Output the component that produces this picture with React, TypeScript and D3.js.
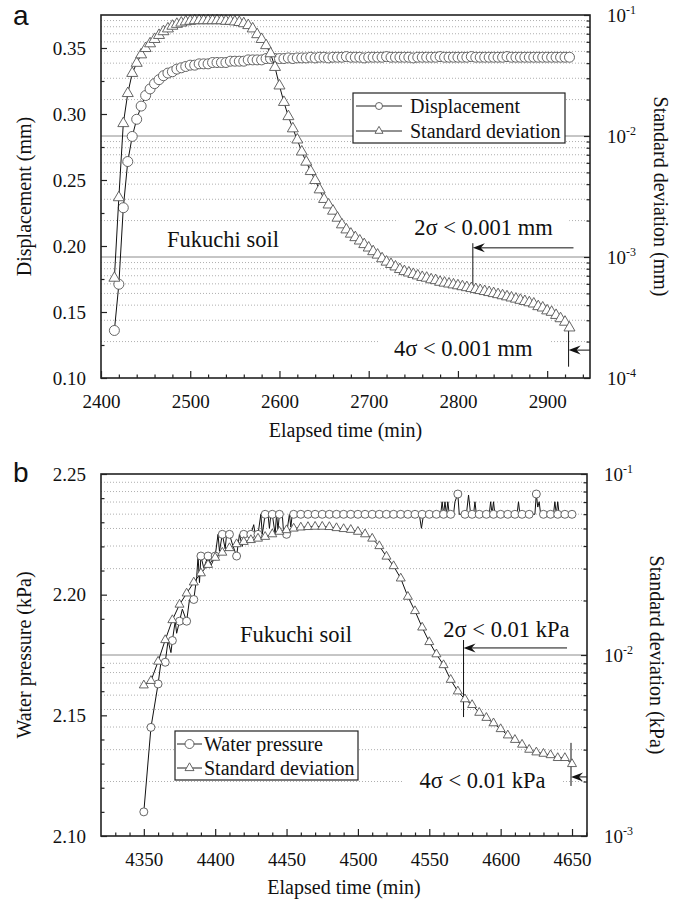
import React, { useEffect, useRef } from "react";
import * as d3 from "d3";

const SERIF = '"Liberation Serif", "Times New Roman", Times, serif';
const SANS = '"Liberation Sans", Arial, sans-serif';

// ---------- panel a : displacement, Fukuchi soil ----------
// readings were logged every 5 min from 2415 min on
const dispStart = 2415;
const dispStep = 5;
const displacement = [
  0.136, 0.171, 0.229, 0.264, 0.283, 0.296, 0.306, 0.314, 0.319, 0.323,
  0.326, 0.329, 0.331, 0.332, 0.334, 0.335, 0.336, 0.337, 0.337, 0.338,
  0.338, 0.338, 0.339, 0.339, 0.339, 0.339, 0.34, 0.34, 0.34, 0.34,
  0.341, 0.341, 0.341, 0.341, 0.342, 0.342, 0.342, 0.342, 0.342, 0.3425,
  0.342, 0.3425, 0.3425, 0.3425, 0.343, 0.3425, 0.343, 0.343, 0.3425, 0.343,
  0.343, 0.343, 0.3435, 0.343, 0.343, 0.343, 0.3425, 0.343, 0.343, 0.343,
  0.343, 0.3435, 0.343, 0.343, 0.343, 0.343, 0.343, 0.3425, 0.343, 0.343,
  0.343, 0.343, 0.343, 0.3435, 0.343, 0.343, 0.343, 0.343, 0.343, 0.343,
  0.3435, 0.343, 0.343, 0.343, 0.343, 0.343, 0.343, 0.343, 0.3435, 0.343,
  0.343, 0.343, 0.343, 0.343, 0.343, 0.343, 0.343, 0.343, 0.343, 0.343,
  0.343, 0.343, 0.343,
];
const displacementSD = [
  0.00067, 0.0031, 0.0127, 0.0225, 0.033, 0.04, 0.047, 0.053, 0.058, 0.063,
  0.068, 0.073, 0.077, 0.081, 0.084, 0.086, 0.088, 0.089, 0.09, 0.09,
  0.09, 0.09, 0.09, 0.09, 0.09, 0.089, 0.089, 0.088, 0.087, 0.085,
  0.082, 0.077, 0.069, 0.063, 0.056, 0.048, 0.037, 0.026, 0.019, 0.0145,
  0.0115, 0.0093, 0.0074, 0.0061, 0.0051, 0.0043, 0.0036, 0.003, 0.0027, 0.0024,
  0.0021, 0.00185, 0.00168, 0.00155, 0.00145, 0.00136, 0.00127, 0.00119, 0.00111, 0.00104,
  0.00097, 0.00091, 0.00087, 0.00083, 0.00079, 0.00076, 0.00074, 0.00072, 0.0007, 0.00068,
  0.00067, 0.00065, 0.00064, 0.00062, 0.00061, 0.0006, 0.00059, 0.00058, 0.00057, 0.00056,
  0.00055, 0.00054, 0.00053, 0.00052, 0.00051, 0.0005, 0.00049, 0.00048, 0.00047, 0.00046,
  0.00045, 0.00044, 0.00043, 0.00042, 0.00041, 0.00039, 0.00038, 0.00036, 0.00035, 0.00033,
  0.00031, 0.00029, 0.00026,
];
const timeTicksA = [2400, 2500, 2600, 2700, 2800, 2900];
const dispTicks = [0.1, 0.15, 0.2, 0.25, 0.3, 0.35];
const legendA = ["Displacement", "Standard deviation"];

// ---------- panel b : water pressure, Fukuchi soil ----------
const wpStart = 4350;
const wpStep = 5;
const waterPressure = [
  2.11, 2.145, 2.163, 2.172, 2.181, 2.189, 2.189, 2.198, 2.216, 2.216,
  2.216, 2.225, 2.225, 2.216, 2.225, 2.225, 2.225, 2.2333, 2.2333, 2.2333,
  2.225, 2.2333, 2.2333, 2.2333, 2.2333, 2.2333, 2.2333, 2.2333, 2.2333, 2.2333,
  2.2333, 2.2333, 2.2333, 2.2333, 2.2333, 2.2333, 2.2333, 2.2333, 2.2333, 2.2333,
  2.2333, 2.2333, 2.2333, 2.2333, 2.2417, 2.2333, 2.2333, 2.2333, 2.2333, 2.2333,
  2.2333, 2.2333, 2.2333, 2.2333, 2.2333, 2.2417, 2.2333, 2.2333, 2.2333, 2.2333,
  2.2333,
];
// the raw pressure trace is logged more often than the plotted markers
const waterPressureTrace: [number, number][] = [
  [4350, 2.11], [4355, 2.145], [4360, 2.163], [4362, 2.172], [4365, 2.172],
  [4367, 2.181], [4369, 2.176], [4370, 2.181], [4372, 2.189], [4373, 2.184],
  [4375, 2.189], [4377, 2.194], [4380, 2.189], [4382, 2.198], [4385, 2.198],
  [4387, 2.207], [4388, 2.216], [4389, 2.205], [4390, 2.216], [4392, 2.211],
  [4395, 2.216], [4397, 2.212], [4400, 2.216], [4402, 2.225], [4403, 2.218],
  [4405, 2.225], [4407, 2.219], [4408, 2.225], [4410, 2.225], [4412, 2.221],
  [4415, 2.216], [4417, 2.225], [4419, 2.22], [4420, 2.225], [4425, 2.225],
  [4427, 2.229], [4428, 2.225], [4430, 2.225], [4432, 2.2333], [4433, 2.225],
  [4435, 2.2333], [4437, 2.2333], [4438, 2.2275], [4439, 2.2333], [4440, 2.2333],
  [4442, 2.225], [4443, 2.2333], [4444, 2.227], [4445, 2.2333], [4447, 2.2333],
  [4448, 2.225], [4450, 2.225], [4452, 2.2333], [4453, 2.228], [4454, 2.2333],
  [4543, 2.2333], [4544.5, 2.2275], [4546, 2.2333], [4558, 2.2333], [4559, 2.2385],
  [4560, 2.2333], [4561, 2.2385], [4562, 2.2333], [4563, 2.2385], [4564, 2.2333],
  [4567, 2.2333], [4568, 2.2385], [4570, 2.2417], [4571, 2.2333], [4576, 2.2333],
  [4577.5, 2.2413], [4579, 2.2333], [4581, 2.2333], [4582, 2.2385], [4583, 2.2333],
  [4592, 2.2333], [4593, 2.2385], [4594, 2.2333], [4595, 2.2385], [4596, 2.2333],
  [4611.5, 2.2333], [4612.5, 2.2385], [4613.5, 2.2333], [4624, 2.2333], [4625, 2.2417],
  [4626, 2.2363], [4627, 2.2385], [4628, 2.2333], [4637, 2.2333], [4638, 2.2385],
  [4639, 2.2333], [4640, 2.2385], [4641, 2.2333], [4650, 2.2333],
];
const waterPressureSD = [
  0.0068, 0.0072, 0.0092, 0.0121, 0.0156, 0.019, 0.0219, 0.0252, 0.0283, 0.0315,
  0.0345, 0.0368, 0.039, 0.041, 0.0422, 0.0432, 0.044, 0.045, 0.0465, 0.048,
  0.049, 0.05, 0.0507, 0.051, 0.0512, 0.0512, 0.051, 0.0503, 0.0497, 0.0492,
  0.048, 0.0465, 0.044, 0.04, 0.035, 0.031, 0.0265, 0.021, 0.0175, 0.0142,
  0.0118, 0.0101, 0.0088, 0.0073, 0.0063, 0.0057, 0.0053, 0.0048, 0.0045, 0.0042,
  0.0039, 0.0036, 0.0034, 0.0032, 0.003, 0.0029, 0.00285, 0.0028, 0.0027, 0.0027,
  0.0025,
];
const timeTicksB = [4350, 4400, 4450, 4500, 4550, 4600, 4650];
const pressureTicks = [2.1, 2.15, 2.2, 2.25];
const legendB = ["Water pressure", "Standard deviation"];

type Note = {
  text: string; tx: number; ty: number;
  vx: number; v0: number; v1: number;
  tail: number; tip: number; ay: number;
};

type Panel = {
  letter: string; letterY: number;
  frame: { left: number; right: number; top: number; bottom: number };
  xDomain: [number, number]; yDomain: [number, number]; sdDomain: [number, number];
  xTicks: number[]; xMinor: number[]; yTicks: number[]; yMinor: number[]; yFormat: string;
  times: number[]; values: number[]; sd: number[]; trace?: [number, number][];
  r: number; tri: number;
  yTitle: string; sdTitle: string; xTitleY: number; sdTitleX: number;
  soil: [number, number]; notes: Note[];
  legend: { x: number; y: number; w: number; h: number; rows: number[]; l0: number; l1: number; tx: number; r: number; tri: number; labels: string[] };
};

const panelA: Panel = {
  letter: "a", letterY: 25,
  frame: { left: 101, right: 590, top: 15, bottom: 378 },
  xDomain: [2400, 2948], yDomain: [0.1, 0.375], sdDomain: [1e-4, 1e-1],
  xTicks: timeTicksA,
  xMinor: d3.range(2420, 2948, 20).filter((t) => t % 100 !== 0),
  yTicks: dispTicks,
  yMinor: [0.125, 0.175, 0.225, 0.275, 0.325],
  yFormat: ".2f",
  times: displacement.map((_, i) => dispStart + i * dispStep),
  values: displacement, sd: displacementSD,
  r: 5, tri: 11,
  yTitle: "Displacement (mm)", sdTitle: "Standard deviation (mm)",
  xTitleY: 437, sdTitleX: 654,
  soil: [2474, 0.1993],
  notes: [
    { text: "2σ < 0.001 mm", tx: 2828.6, ty: 1.52e-3, vx: 2816.7, v0: 1.3e-3, v1: 5.33e-4, tail: 2929.5, tip: 2816.7, ay: 1.19e-3 },
    { text: "4σ < 0.001 mm", tx: 2806, ty: 1.52e-4, vx: 2924, v0: 2.61e-4, v1: 1.24e-4, tail: 2948, tip: 2924, ay: 1.7e-4 },
  ],
  legend: { x: 353, y: 93, w: 212, h: 50, rows: [106, 131], l0: 356, l1: 402, tx: 410, r: 3.5, tri: 8, labels: legendA },
};

const panelB: Panel = {
  letter: "b", letterY: 482,
  frame: { left: 101, right: 587, top: 474, bottom: 836 },
  xDomain: [4320, 4660.5], yDomain: [2.1, 2.25], sdDomain: [1e-3, 1e-1],
  xTicks: timeTicksB,
  xMinor: d3.range(4330, 4661, 10).filter((t) => t % 50 !== 0),
  yTicks: pressureTicks,
  yMinor: d3.range(2.11, 2.245, 0.01).filter((v) => Math.abs(v - 2.15) > 0.001 && Math.abs(v - 2.2) > 0.001),
  yFormat: ".2f",
  times: waterPressure.map((_, i) => wpStart + i * wpStep),
  values: waterPressure, sd: waterPressureSD, trace: waterPressureTrace,
  r: 4, tri: 9,
  yTitle: "Water pressure (kPa)", sdTitle: "Standard deviation (kPa)",
  xTitleY: 894, sdTitleX: 650,
  soil: [4417.4, 2.1802],
  notes: [
    { text: "2σ < 0.01 kPa", tx: 4604, ty: 0.0126, vx: 4574, v0: 0.0121, v1: 0.00454, tail: 4646.5, tip: 4574, ay: 0.01094 },
    { text: "4σ < 0.01 kPa", tx: 4587.3, ty: 0.00184, vx: 4649.3, v0: 0.00327, v1: 0.00189, tail: 4660.5, tip: 4649.3, ay: 0.00212 },
  ],
  legend: { x: 175, y: 731, w: 183, h: 49, rows: [744, 768], l0: 177, l1: 202, tx: 204, r: 4.5, tri: 9, labels: legendB },
};

const triPath = (side: number) => d3.symbol(d3.symbolTriangle, (side * side * Math.sqrt(3)) / 4)()!;

function drawPanel(svg: d3.Selection<SVGSVGElement, unknown, null, undefined>, p: Panel) {
  const { left, right, top, bottom } = p.frame;
  const x = d3.scaleLinear().domain(p.xDomain).range([left, right]);
  const y = d3.scaleLinear().domain(p.yDomain).range([bottom, top]);
  const ys = d3.scaleLog().domain(p.sdDomain).range([bottom, top]);
  const g = svg.append("g");

  // grid from the log axis: dotted at 2..9, solid at inner decades
  const logTicks = ys.ticks();
  const isDecade = (v: number) => Math.abs(Math.log10(v) - Math.round(Math.log10(v))) < 1e-6;
  const minors = logTicks.filter((v) => !isDecade(v));
  const decades = logTicks.filter(isDecade);
  g.selectAll(".grid").data(minors).join("line")
    .attr("x1", left).attr("x2", right)
    .attr("y1", (d) => ys(d)).attr("y2", (d) => ys(d))
    .attr("stroke", "#9a9a9a").attr("stroke-width", 0.8).attr("stroke-dasharray", "1,2");
  g.selectAll(".dec").data(decades.filter((d) => d > p.sdDomain[0] && d < p.sdDomain[1])).join("line")
    .attr("x1", left).attr("x2", right)
    .attr("y1", (d) => ys(d)).attr("y2", (d) => ys(d))
    .attr("stroke", "#8c8c8c").attr("stroke-width", 1);

  // annotations
  p.notes.forEach((n) => {
    const t = g.append("text")
      .attr("x", x(n.tx)).attr("y", ys(n.ty))
      .attr("text-anchor", "middle")
      .attr("font-family", SERIF).attr("font-size", 22.5).attr("fill", "#111")
      .text(n.text);
    const bb = (t.node() as SVGTextElement).getBBox();
    g.insert("rect", () => t.node())
      .attr("x", bb.x - 16).attr("y", bb.y + 2).attr("width", bb.width + 32).attr("height", bb.height - 2)
      .attr("fill", "#fff");
    g.append("line")
      .attr("x1", x(n.vx)).attr("x2", x(n.vx)).attr("y1", ys(n.v0)).attr("y2", ys(n.v1))
      .attr("stroke", "#111").attr("stroke-width", 1);
    g.append("line")
      .attr("x1", x(n.tail)).attr("x2", x(n.tip) + 6).attr("y1", ys(n.ay)).attr("y2", ys(n.ay))
      .attr("stroke", "#111").attr("stroke-width", 1);
    const tx = x(n.tip), ty = ys(n.ay);
    g.append("path")
      .attr("d", `M${tx},${ty} L${tx + 12},${ty - 4.5} L${tx + 8},${ty} L${tx + 12},${ty + 4.5} Z`)
      .attr("fill", "#111");
  });

  g.append("text")
    .attr("x", x(p.soil[0])).attr("y", y(p.soil[1]))
    .attr("font-family", SERIF).attr("font-size", 22.5).attr("fill", "#111")
    .text("Fukuchi soil");

  // value series (left axis)
  const main = p.trace ?? p.times.map((t, i) => [t, p.values[i]] as [number, number]);
  g.append("path")
    .attr("d", d3.line<[number, number]>().x((d) => x(d[0])).y((d) => y(d[1]))(main))
    .attr("fill", "none").attr("stroke", "#111").attr("stroke-width", 1);
  g.selectAll(".pt").data(p.values).join("circle")
    .attr("cx", (_, i) => x(p.times[i])).attr("cy", (d) => y(d)).attr("r", p.r)
    .attr("fill", "#fff").attr("stroke", "#555").attr("stroke-width", 0.9);

  // standard deviation (right log axis)
  g.append("path")
    .attr("d", d3.line<number>().x((_, i) => x(p.times[i])).y((d) => ys(d))(p.sd))
    .attr("fill", "none").attr("stroke", "#111").attr("stroke-width", 1);
  const tp = triPath(p.tri);
  g.selectAll(".sd").data(p.sd).join("path")
    .attr("d", tp)
    .attr("transform", (d, i) => `translate(${x(p.times[i])},${ys(d)})`)
    .attr("fill", "#fff").attr("stroke", "#555").attr("stroke-width", 0.9);

  // legend
  const L = p.legend;
  g.append("rect").attr("x", L.x).attr("y", L.y).attr("width", L.w).attr("height", L.h)
    .attr("fill", "#fff").attr("stroke", "#222").attr("stroke-width", 1.2);
  L.rows.forEach((ry, i) => {
    const cx = (L.l0 + L.l1) / 2;
    g.append("line").attr("x1", L.l0).attr("x2", L.l1).attr("y1", ry).attr("y2", ry)
      .attr("stroke", "#222").attr("stroke-width", 1);
    if (i === 0) {
      g.append("circle").attr("cx", cx).attr("cy", ry).attr("r", L.r)
        .attr("fill", "#fff").attr("stroke", "#555").attr("stroke-width", 0.9);
    } else {
      g.append("path").attr("d", triPath(L.tri)).attr("transform", `translate(${cx},${ry})`)
        .attr("fill", "#fff").attr("stroke", "#555").attr("stroke-width", 0.9);
    }
    g.append("text").attr("x", L.tx).attr("y", ry + 6.5)
      .attr("font-family", SERIF).attr("font-size", 20).attr("fill", "#111")
      .text(L.labels[i]);
  });

  // frame
  g.append("rect").attr("x", left).attr("y", top).attr("width", right - left).attr("height", bottom - top)
    .attr("fill", "none").attr("stroke", "#222").attr("stroke-width", 1.6);

  const style = (a: d3.Selection<SVGGElement, unknown, null, undefined>) => {
    a.select(".domain").remove();
    a.selectAll("line").attr("stroke", "#222").attr("stroke-width", 1.2);
    a.attr("font-family", SERIF).attr("font-size", 19).attr("fill", "#111");
    a.selectAll("text").attr("fill", "#111");
  };

  g.append("g").attr("transform", `translate(${left},0)`)
    .call(d3.axisLeft(y).tickValues(p.yTicks).tickSize(-6).tickPadding(15).tickFormat(d3.format(p.yFormat)))
    .call(style);
  g.append("g").attr("transform", `translate(${left},0)`)
    .call(d3.axisLeft(y).tickValues(p.yMinor).tickSize(-3.5).tickFormat(() => ""))
    .call(style);
  g.append("g").attr("transform", `translate(0,${bottom})`)
    .call(d3.axisBottom(x).tickValues(p.xTicks).tickSize(-7).tickPadding(16.5).tickFormat(d3.format("d")))
    .call(style);
  g.append("g").attr("transform", `translate(0,${bottom})`)
    .call(d3.axisBottom(x).tickValues(p.xMinor).tickSize(-3.5).tickFormat(() => ""))
    .call(style);
  g.append("g").attr("transform", `translate(${right},0)`)
    .call(d3.axisRight(ys).tickValues(decades).tickSize(-6).tickFormat(() => ""))
    .call(style);
  g.append("g").attr("transform", `translate(${right},0)`)
    .call(d3.axisRight(ys).tickValues(minors).tickSize(-3.5).tickFormat(() => ""))
    .call(style);

  // 10^n labels on the log axis
  decades.forEach((d) => {
    const t = g.append("text").attr("x", right + 17).attr("y", ys(d) + 7)
      .attr("font-family", SERIF).attr("font-size", 19).attr("fill", "#111");
    t.append("tspan").text("10");
    t.append("tspan").attr("dy", -8).attr("font-size", 12).text(String(Math.round(Math.log10(d))));
  });

  // titles
  g.append("text").attr("x", (left + right) / 2).attr("y", p.xTitleY).attr("text-anchor", "middle")
    .attr("font-family", SERIF).attr("font-size", 20).attr("fill", "#111").text("Elapsed time (min)");
  g.append("text").attr("transform", `translate(31,${(top + bottom) / 2}) rotate(-90)`).attr("text-anchor", "middle")
    .attr("font-family", SERIF).attr("font-size", 20).attr("fill", "#111").text(p.yTitle);
  g.append("text").attr("transform", `translate(${p.sdTitleX},${(top + bottom) / 2}) rotate(90)`).attr("text-anchor", "middle")
    .attr("font-family", SERIF).attr("font-size", 20).attr("fill", "#111").text(p.sdTitle);
  g.append("text").attr("x", 13).attr("y", p.letterY)
    .attr("font-family", SANS).attr("font-size", 28).attr("fill", "#111").text(p.letter);
}

export default function App() {
  const ref = useRef<SVGSVGElement>(null);
  useEffect(() => {
    if (!ref.current) return;
    const svg = d3.select(ref.current);
    svg.selectAll("*").remove();
    drawPanel(svg, panelA);
    drawPanel(svg, panelB);
  }, []);
  return (
    <svg
      ref={ref}
      width={685}
      height={902}
      style={{ position: "absolute", left: 0, top: 0, background: "#fff", display: "block" }}
    />
  );
}
